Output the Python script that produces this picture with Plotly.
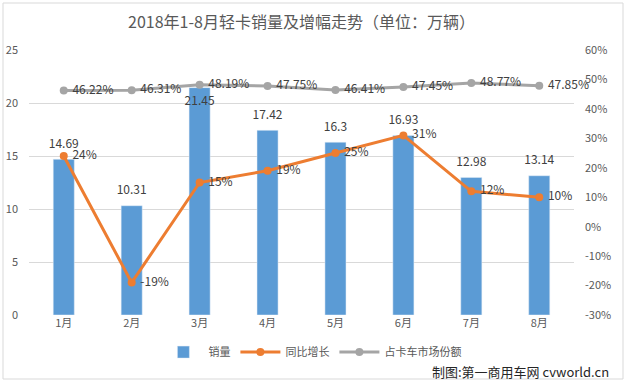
import plotly.graph_objects as go

months = ["1月", "2月", "3月", "4月", "5月", "6月", "7月", "8月"]
sales = [14.69, 10.31, 21.45, 17.42, 16.3, 16.93, 12.98, 13.14]
growth = [24, -19, 15, 19, 25, 31, 12, 10]
share = [46.22, 46.31, 48.19, 47.75, 46.41, 47.45, 48.77, 47.85]
left_ticks = [0, 5, 10, 15, 20, 25]
right_ticks = [-30, -20, -10, 0, 10, 20, 30, 40, 50, 60]

FONT = "Noto Sans CJK SC, Microsoft YaHei, sans-serif"
TXT = "#595959"
LBL = "#404040"

sales_pos = ["bottom center" if m == "3月" else "top center" for m in months]

fig = go.Figure()
fig.add_trace(go.Bar(
    x=months, y=sales, name="销量", marker_color="#5B9BD5", width=0.31,
    yaxis="y", hoverinfo="x+y",
))
# bar value labels
fig.add_trace(go.Scatter(
    x=months, y=sales, mode="markers+text", showlegend=False, hoverinfo="skip",
    marker=dict(size=12, opacity=0),
    text=[f"{v:g}" for v in sales], textposition=sales_pos,
    textfont=dict(size=12, color=LBL, family=FONT), cliponaxis=False,
    yaxis="y",
))
fig.add_trace(go.Scatter(
    x=months, y=growth, name="同比增长", mode="lines+markers+text",
    line=dict(color="#ED7D31", width=3), marker=dict(size=8, color="#ED7D31"),
    text=[f"\u00a0{v}%" for v in growth], textposition="middle right",
    textfont=dict(size=12, color=LBL, family=FONT), cliponaxis=False,
    yaxis="y2",
))
fig.add_trace(go.Scatter(
    x=months, y=share, name="占卡车市场份额", mode="lines+markers+text",
    line=dict(color="#A5A5A5", width=3), marker=dict(size=8, color="#A5A5A5"),
    text=[f"\u00a0{v:.2f}%" for v in share], textposition="middle right",
    textfont=dict(size=12, color=LBL, family=FONT), cliponaxis=False,
    yaxis="y2",
))

fig.update_layout(
    width=632, height=384,
    margin=dict(l=29, r=58, t=50, b=69, autoexpand=False),
    paper_bgcolor="white", plot_bgcolor="white",
    font=dict(family=FONT, size=11, color=TXT),
    title=dict(text="2018年1-8月轻卡销量及增幅走势（单位：万辆）", x=0.5, xref="paper",
               y=1 - 22 / 384, yanchor="middle", xanchor="center",
               font=dict(size=16, color=TXT, family=FONT)),
    showlegend=True,
    legend=dict(orientation="h", x=0.52, xanchor="center", y=-0.14, yanchor="middle",
                font=dict(size=11, color=TXT, family=FONT), itemwidth=40,
                traceorder="normal"),
    xaxis=dict(showgrid=False, showline=False, ticks="", automargin=False,
               tickfont=dict(size=11, color=TXT)),
    yaxis=dict(range=[0, 25], tickvals=left_ticks, showgrid=True, gridcolor="#D9D9D9",
               gridwidth=1, zeroline=False, showline=False, ticklabelstandoff=10,
               automargin=False, tickfont=dict(size=11, color=TXT)),
    yaxis2=dict(range=[-30, 60], tickvals=right_ticks,
                ticktext=[f"{v}%" for v in right_ticks], overlaying="y",
                side="right", showgrid=False, zeroline=False, showline=False,
                ticklabelstandoff=10, automargin=False,
                tickfont=dict(size=11, color=TXT)),
    bargap=0.69,
)

pw = 632 - 29 - 58
ph = 384 - 50 - 69
def px_x(p):
    return (p - 29) / pw
def px_y(p):
    return (384 - 69 - p) / ph
fig.add_shape(type="rect", xref="paper", yref="paper",
              x0=px_x(3), x1=px_x(623), y0=px_y(379), y1=px_y(3),
              line=dict(color="#D9D9D9", width=1), fillcolor="rgba(0,0,0,0)", layer="below")

fig.add_annotation(text="制图:第一商用车网 cvworld.cn", xref="paper", yref="paper",
                   x=px_x(611), y=px_y(371), xanchor="right", yanchor="middle",
                   showarrow=False, font=dict(size=13, color="#262626", family=FONT))

fig.write_html("out.html", config={"displayModeBar": False},
               post_script="document.body.style.margin='0';document.body.style.padding='0';")
